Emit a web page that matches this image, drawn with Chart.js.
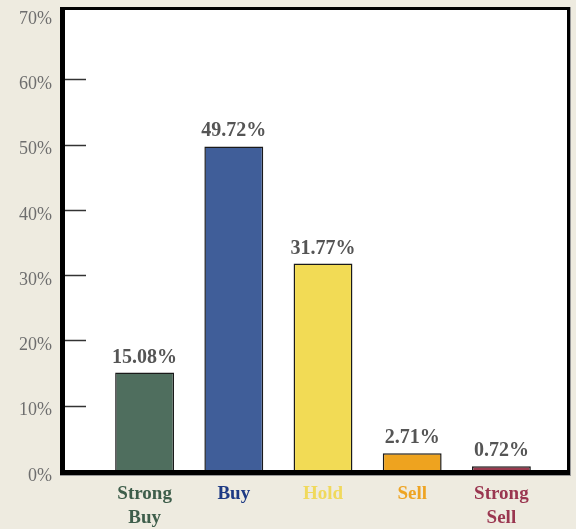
<!DOCTYPE html>
<html>
<head>
<meta charset="utf-8">
<script src="https://cdn.jsdelivr.net/npm/chart.js@4/dist/chart.umd.min.js"></script>
<style>
  html, body { margin: 0; padding: 0; background: #EEEBE0; }
  #wrap { width: 576px; height: 529px; }
</style>
</head>
<body>
<div id="wrap"><canvas id="c" width="576" height="529"></canvas></div>
<script>
const categories = [["Strong", "Buy"], "Buy", "Hold", "Sell", ["Strong", "Sell"]];
const values = [15.08, 49.72, 31.77, 2.71, 0.72];
const valueLabels = ["15.08%", "49.72%", "31.77%", "2.71%", "0.72%"];
const barColors = ["#4F6E5E", "#405E99", "#F2DB55", "#EEA31F", "#9A3A4E"];
const labelColors = ["#3E5E4B", "#1E3A84", "#F0D95C", "#EEA423", "#9A3650"];
const yTicks = [0, 10, 20, 30, 40, 50, 60, 70];

const SERIF = '"Liberation Serif", "DejaVu Serif", serif';

function frameBox(a) {
  return { L: a.left - 40, R: a.right + 24, T: a.top - 7, B: a.bottom + 4 };
}

const framePlugin = {
  id: 'frame',
  beforeDatasetsDraw(chart) {
    const { ctx, chartArea: a } = chart;
    const f = frameBox(a);
    ctx.save();
    ctx.fillStyle = '#FFFFFF';
    ctx.fillRect(f.L, f.T, f.R - f.L, f.B - f.T);
    // inner tick marks
    const y = chart.scales.y;
    ctx.strokeStyle = '#333333';
    ctx.lineWidth = 1.5;
    for (const v of yTicks) {
      if (v === 0 || v === 70) continue;
      const py = Math.round(y.getPixelForValue(v)) + 0.5;
      ctx.beginPath();
      ctx.moveTo(f.L + 5, py);
      ctx.lineTo(f.L + 26, py);
      ctx.stroke();
    }
    ctx.restore();
  },
  afterDatasetsDraw(chart) {
    const { ctx, chartArea: a } = chart;
    const { L, R, T, B } = frameBox(a);
    ctx.save();
    ctx.fillStyle = '#000000';
    ctx.fillRect(L, T, 5, B - T);          // left
    ctx.fillRect(L, T, R - L, 3);          // top
    ctx.fillRect(R - 3, T, 3, B - T);      // right
    ctx.fillRect(L, B - 5, R - L, 5);      // bottom
    ctx.fillStyle = '#999999';
    ctx.fillRect(R, T, 1, B - T);
    ctx.fillRect(L, B, R - L + 1, 1);
    // value labels
    const meta = chart.getDatasetMeta(0);
    ctx.fillStyle = '#555555';
    ctx.font = 'bold 20px ' + SERIF;
    ctx.textAlign = 'center';
    ctx.textBaseline = 'alphabetic';
    meta.data.forEach((bar, i) => {
      ctx.fillText(valueLabels[i], bar.x, bar.y - 10);
    });
    ctx.restore();
  }
};

new Chart(document.getElementById('c'), {
  type: 'bar',
  data: {
    labels: categories,
    datasets: [{
      data: values,
      backgroundColor: barColors,
      borderColor: '#1A1A1A',
      borderWidth: 1.5,
      borderSkipped: 'bottom',
      barPercentage: 0.66,
      categoryPercentage: 1.0
    }]
  },
  options: {
    responsive: false,
    animation: false,
    devicePixelRatio: 1,
    layout: { padding: { left: 0, right: 30, top: 14, bottom: 0 } },
    plugins: { legend: { display: false }, tooltip: { enabled: false } },
    scales: {
      x: {
        grid: { display: false, drawTicks: false },
        border: { display: false },
        afterFit(scale) {
          scale.height = 58;
          scale.paddingLeft = 0; scale.paddingRight = 0;
        },
        ticks: {
          padding: 11,
          maxRotation: 0,
          autoSkip: false,
          color: (c) => labelColors[c.index],
          font: { family: SERIF, size: 19, weight: 'bold', lineHeight: 1.26 }
        }
      },
      y: {
        min: 0,
        max: 70,
        grid: { display: false, drawTicks: false },
        border: { display: false },
        afterFit(scale) {
          scale.width = 100;
          scale.paddingTop = 0; scale.paddingBottom = 0;
        },
        afterBuildTicks(scale) { scale.ticks = yTicks.map(v => ({ value: v })); },
        ticks: {
          padding: 48,
          labelOffset: 5,
          color: '#6E6E6E',
          font: { family: SERIF, size: 18 },
          callback: (v) => v + '%'
        }
      }
    }
  },
  plugins: [framePlugin]
});
</script>
</body>
</html>
